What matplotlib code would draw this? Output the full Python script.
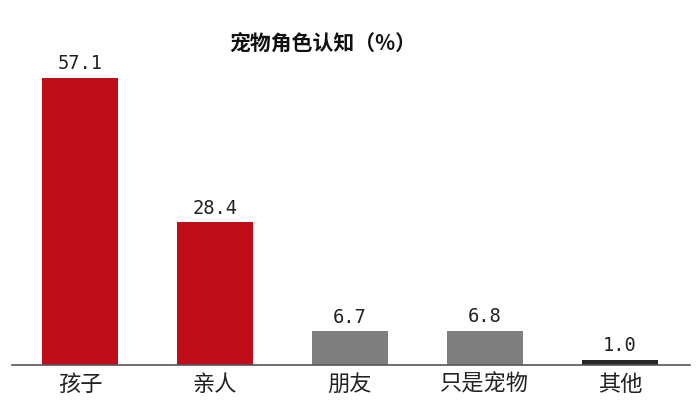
import matplotlib
matplotlib.use("Agg")
import matplotlib.pyplot as plt

plt.rcParams['font.family'] = ['Noto Sans CJK SC', 'DejaVu Sans']

categories = ["孩子", "亲人", "朋友", "只是宠物", "其他"]
values = [57.1, 28.4, 6.7, 6.8, 1.0]
value_labels = ["57.1", "28.4", "6.7", "6.8", "1.0"]
colors = ["#C00D1A", "#C00D1A", "#7F7F7F", "#7F7F7F", "#262626"]

fig = plt.figure(figsize=(7, 4.14), dpi=100)
ax = fig.add_axes([12 / 700, 48 / 414, 678 / 700, 306 / 414])

x = range(len(categories))
bars = ax.bar(x, values, width=0.56, color=colors)

for b, lab in zip(bars, value_labels):
    ax.annotate(lab, (b.get_x() + b.get_width() / 2, b.get_height()),
                xytext=(0, 4), textcoords="offset points",
                ha="center", va="bottom", fontsize=13.5,
                family="DejaVu Sans Mono", color="#222222")

ax.set_xlim(-0.505, 4.52)
ax.set_ylim(0, 60.8)
ax.set_xticks(list(x))
ax.set_xticklabels(categories, fontsize=16, color="#222222")
ax.tick_params(axis="x", length=0, pad=5)
ax.set_yticks([])
for s in ["top", "right", "left"]:
    ax.spines[s].set_visible(False)
ax.spines["bottom"].set_color("#555555")
ax.spines["bottom"].set_linewidth(1.2)

fig.text(323 / 700, 1 - 43 / 414, "宠物角色认知（%）", ha="center", va="center",
         fontsize=15, fontweight="bold", color="#111111")

fig.savefig("out.png", dpi=100)
